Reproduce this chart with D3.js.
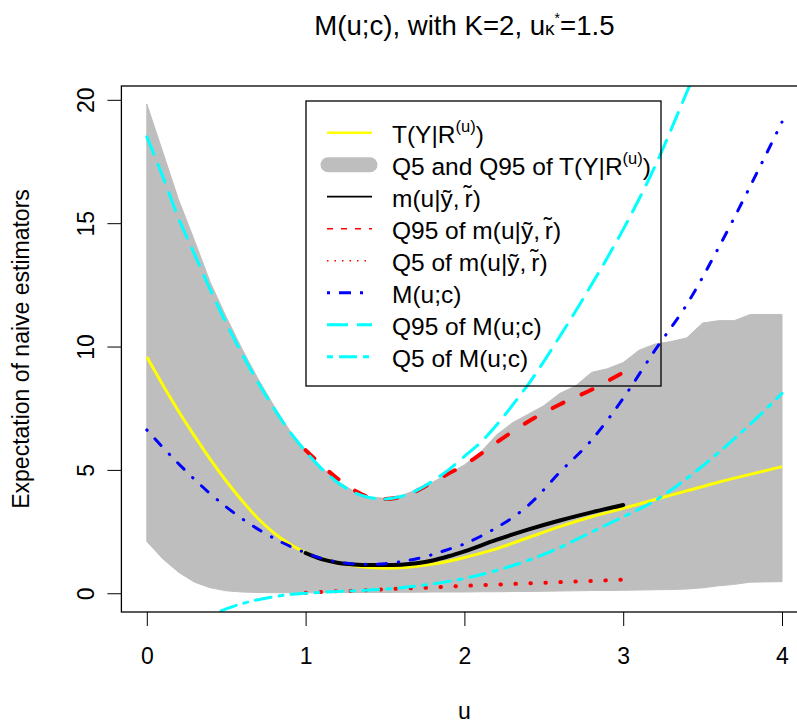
<!DOCTYPE html>
<html>
<head>
<meta charset="utf-8">
<script src="https://cdn.jsdelivr.net/npm/d3@7"></script>
<style>
  body { margin: 0; background: #fff; }
  text { font-family: "Liberation Sans", Arial, Helvetica, sans-serif; fill: #000; }
</style>
</head>
<body>
<div id="chart"></div>
<script>
// values
const bandU = [0, 0.1, 0.2, 0.3, 0.4, 0.5, 0.6, 0.7, 0.8, 0.9, 1.0, 1.1, 1.2, 1.3, 1.4, 1.5, 1.6, 1.7, 1.8, 1.9,
  2.0, 2.1, 2.2, 2.3, 2.4, 2.5, 2.6, 2.7, 2.8, 2.9, 3.0, 3.1, 3.2, 3.3, 3.4, 3.5, 3.6, 3.7, 3.8, 3.9, 4.0];
const bandHi = [19.83, 17.9, 15.95, 14.3, 12.6, 11.2, 9.9, 8.7, 7.6, 6.6, 5.8, 5.1, 4.55, 4.15, 3.9, 3.85, 3.95, 4.2, 4.5, 4.85,
  5.2, 5.7, 6.4, 6.9, 7.25, 7.6, 8.1, 8.4, 8.95, 9.1, 9.35, 9.85, 10.1, 10.2, 10.35, 10.95, 11.05, 11.05, 11.3, 11.3, 11.3];
const bandLo = [2.1, 1.4, 0.85, 0.45, 0.22, 0.1, 0.05, 0.03, 0.02, 0.02, 0.02, 0.02, 0.03, 0.03, 0.03, 0.03, 0.04, 0.04, 0.05, 0.05,
  0.05, 0.06, 0.06, 0.07, 0.07, 0.08, 0.09, 0.1, 0.11, 0.11, 0.12, 0.13, 0.14, 0.15, 0.17, 0.22, 0.3, 0.36, 0.45, 0.46, 0.47];

const tU = [0, 0.1, 0.2, 0.3, 0.4, 0.5, 0.6, 0.7, 0.8, 0.9, 1.0, 1.1, 1.2, 1.3, 1.4, 1.5, 1.6, 1.7, 1.8, 1.9,
  2.0, 2.2, 2.4, 2.6, 2.8, 3.0, 3.2, 3.4, 3.6, 3.8, 4.0];
const tMean = [9.58, 8.45, 7.38, 6.38, 5.43, 4.55, 3.75, 3.03, 2.45, 2.0, 1.65, 1.41, 1.23, 1.12, 1.04, 1.01, 1.03, 1.09, 1.18, 1.3,
  1.45, 1.8, 2.25, 2.7, 3.1, 3.44, 3.8, 4.15, 4.5, 4.82, 5.13];

const mU = [1.0, 1.1, 1.2, 1.3, 1.4, 1.5, 1.6, 1.7, 1.8, 1.9, 2.0, 2.2, 2.4, 2.6, 2.8, 3.0];
const mMean = [1.63, 1.38, 1.24, 1.17, 1.14, 1.14, 1.16, 1.22, 1.33, 1.5, 1.7, 2.16, 2.58, 2.95, 3.28, 3.58];
const mQ95 = [5.8, 5.2, 4.65, 4.2, 3.9, 3.82, 3.9, 4.15, 4.5, 4.85, 5.2, 6.1, 6.95, 7.65, 8.25, 8.95];
const mQ5 = [0.02, 0.05, 0.08, 0.1, 0.13, 0.16, 0.19, 0.21, 0.24, 0.27, 0.3, 0.35, 0.4, 0.45, 0.5, 0.55];

const bigU = [0, 0.1, 0.2, 0.3, 0.4, 0.5, 0.6, 0.7, 0.8, 0.9, 1.0, 1.1, 1.2, 1.3, 1.4, 1.5, 1.6, 1.7, 1.8, 1.9,
  2.0, 2.1, 2.2, 2.3, 2.4, 2.6, 2.8, 3.0, 3.2, 3.4, 3.6, 3.8, 4.0];
const bigM = [6.62, 5.92, 5.25, 4.62, 4.03, 3.5, 3.02, 2.6, 2.23, 1.91, 1.64, 1.42, 1.27, 1.19, 1.17, 1.2, 1.28, 1.4, 1.57, 1.78,
  2.0, 2.3, 2.65, 3.05, 3.55, 4.9, 6.2, 7.9, 9.85, 11.7, 14.0, 16.5, 19.1];
const bigQ95 = [18.5, 16.9, 15.2, 13.75, 12.3, 10.95, 9.7, 8.55, 7.5, 6.55, 5.75, 5.05, 4.5, 4.1, 3.88, 3.82, 3.92, 4.17, 4.55, 5.0,
  5.55, 6.1, 6.8, 7.6, 8.45, 10.4, 12.5, 14.75, 17.3, 20.3, 23.4, 26.8, 30.5];
const bigQ5U = [0, 0.2, 0.3, 0.4, 0.5, 0.6, 0.7, 0.8, 0.9, 1.0, 1.2, 1.4, 1.6, 1.8, 2.0, 2.2, 2.4, 2.6, 2.8, 3.0, 3.2, 3.4, 3.6, 3.8, 4.0];
const bigQ5 = [-2.3, -1.55, -1.2, -0.9, -0.63, -0.42, -0.26, -0.14, -0.05, 0.0, 0.07, 0.13, 0.22, 0.38, 0.6, 0.92, 1.33, 1.85, 2.48, 3.1, 3.75, 4.65, 5.7, 6.85, 8.1];

const xTicks = [0, 1, 2, 3, 4];
const yTicks = [0, 5, 10, 15, 20];

const W = 797, H = 723;
const box = { left: 121.4, right: 807.4, top: 86, bottom: 612 };
const fs = 23;

const svg = d3.select('#chart').append('svg').attr('width', W).attr('height', H);

const x = d3.scaleLinear().domain([-0.16, 4.16]).range([box.left, box.right]);
const y = d3.scaleLinear().domain([-0.76, 20.56]).range([box.bottom, box.top]);

svg.append('clipPath').attr('id', 'plotClip')
  .append('rect')
  .attr('x', box.left).attr('y', box.top)
  .attr('width', box.right - box.left).attr('height', box.bottom - box.top);

const plot = svg.append('g').attr('clip-path', 'url(#plotClip)');

// gray band
const area = d3.area()
  .x((d, i) => x(bandU[i]))
  .y0((d, i) => y(bandLo[i]))
  .y1((d, i) => y(bandHi[i]));
plot.append('path')
  .attr('d', area(bandU))
  .attr('fill', '#bebebe')
  .attr('stroke', '#bebebe')
  .attr('stroke-width', 1);

const zip = (us, vs) => us.map((u, i) => [u, vs[i]]);
const line = d3.line().x(d => x(d[0])).y(d => y(d[1])).curve(d3.curveMonotoneX);

function drawLine(us, vs, color, width, dash, cap) {
  plot.append('path')
    .attr('d', line(zip(us, vs)))
    .attr('fill', 'none')
    .attr('stroke', color)
    .attr('stroke-width', width)
    .attr('stroke-dasharray', dash)
    .attr('stroke-linecap', cap || 'butt');
}

drawLine(tU, tMean, '#ffff00', 3, null);
drawLine(mU, mMean, '#000000', 4, null, 'round');
drawLine(mU, mQ95, '#ff0000', 4, '12,20', 'round');
drawLine(mU, mQ5, '#ff0000', 4, '0.5,14.5', 'round');
drawLine(bigU, bigM, '#0000ff', 3, '0.5,11.5,9,12', 'round');
drawLine(bigU, bigQ95, '#00ffff', 3, '19,11', 'round');
drawLine(bigQ5U, bigQ5, '#00ffff', 3, '4,8,16,8', 'round');

// axes
const xAxis = svg.append('g')
  .attr('transform', `translate(0,${box.bottom})`)
  .call(d3.axisBottom(x).tickValues(xTicks).tickSize(14).tickPadding(22).tickFormat(d3.format('d')));
xAxis.select('.domain').remove();
xAxis.selectAll('.tick line').attr('stroke', '#000').attr('stroke-width', 1);
xAxis.selectAll('.tick text').attr('font-size', fs).attr('font-family', null);

const yAxis = svg.append('g')
  .attr('transform', `translate(${box.left},0)`)
  .call(d3.axisLeft(y).tickValues(yTicks).tickSize(14).tickFormat(d3.format('d')));
yAxis.select('.domain').remove();
yAxis.selectAll('.tick line').attr('stroke', '#000').attr('stroke-width', 1);
yAxis.selectAll('.tick text')
  .attr('font-size', fs).attr('font-family', null)
  .attr('transform', 'rotate(-90)')
  .attr('x', 0).attr('y', -27).attr('dy', 0)
  .attr('text-anchor', 'middle');

svg.append('rect')
  .attr('x', box.left).attr('y', box.top)
  .attr('width', box.right - box.left).attr('height', box.bottom - box.top)
  .attr('fill', 'none').attr('stroke', '#000').attr('stroke-width', 1.3);

// titles
const title = svg.append('text')
  .attr('x', (box.left + box.right) / 2).attr('y', 35)
  .attr('text-anchor', 'middle').attr('font-size', fs * 1.2);
title.append('tspan').text('M(u;c), with K=2, u');
title.append('tspan').attr('font-size', 19).text('\u03ba');
title.append('tspan').attr('font-size', 14).attr('dy', -12).text('*');
title.append('tspan').attr('dy', 12).text('=1.5');

svg.append('text')
  .attr('x', (box.left + box.right) / 2).attr('y', 719)
  .attr('text-anchor', 'middle').attr('font-size', fs)
  .text('u');

svg.append('text')
  .attr('transform', `translate(29,${(box.top + box.bottom) / 2}) rotate(-90)`)
  .attr('text-anchor', 'middle').attr('font-size', fs)
  .text('Expectation of naive estimators');

// legend
const legendItems = [
  { parts: [['T(Y|R', 0], ['(u)', 1], [')', 0]], color: '#ffff00', width: 2.5, dash: null },
  { parts: [['Q5 and Q95 of T(Y|R', 0], ['(u)', 1], [')', 0]], color: '#bebebe', width: 15, dash: null, cap: 'round' },
  { parts: [['m(u|\u1ef9,\u2009r\u0303)', 0]], color: '#000000', width: 1.8, dash: null },
  { parts: [['Q95 of m(u|\u1ef9,\u2009r\u0303)', 0]], color: '#ff0000', width: 1.5, dash: '6,8' },
  { parts: [['Q5 of m(u|\u1ef9,\u2009r\u0303)', 0]], color: '#ff0000', width: 1.5, dash: '1.5,6' },
  { parts: [['M(u;c)', 0]], color: '#0000ff', width: 3, dash: '3,9,12,9' },
  { parts: [['Q95 of M(u;c)', 0]], color: '#00ffff', width: 3, dash: '21,9' },
  { parts: [['Q5 of M(u;c)', 0]], color: '#00ffff', width: 3, dash: '6,6,18,6' }
];

const legend = svg.append('g');
legend.append('rect')
  .attr('x', 306).attr('y', 101).attr('width', 355).attr('height', 285)
  .attr('fill', 'none').attr('stroke', '#000').attr('stroke-width', 1.3);

legendItems.forEach((item, i) => {
  const cy = 132.7 + i * 32;
  legend.append('line')
    .attr('x1', item.cap ? 328 : 327).attr('x2', item.cap ? 370 : 372)
    .attr('y1', cy).attr('y2', cy)
    .attr('stroke', item.color).attr('stroke-width', item.width)
    .attr('stroke-dasharray', item.dash)
    .attr('stroke-linecap', item.cap || 'butt');
  const t = legend.append('text')
    .attr('x', 392).attr('y', cy + 10).attr('font-size', 24.5);
  let raised = false;
  item.parts.forEach(([s, sup]) => {
    const ts = t.append('tspan').text(s);
    if (sup) { ts.attr('font-size', 16.5).attr('dy', -11); raised = true; }
    else if (raised) { ts.attr('dy', 11); raised = false; }
  });
});
</script>
</body>
</html>
